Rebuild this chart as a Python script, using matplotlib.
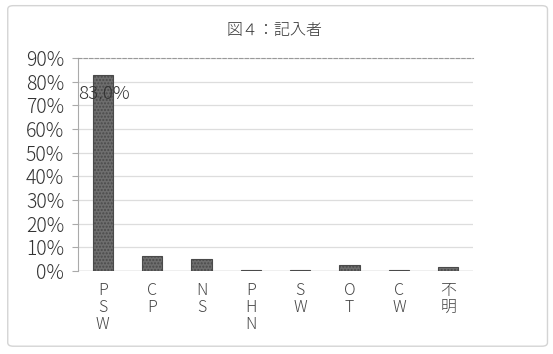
import matplotlib
matplotlib.use("Agg")
import matplotlib.pyplot as plt
from matplotlib.patches import FancyBboxPatch

plt.rcParams['font.family'] = ['Noto Sans CJK JP', 'DejaVu Sans']
plt.rcParams['font.weight'] = 'light'

# 記入者の内訳 (%)
categories = ['PSW', 'CP', 'NS', 'PHN', 'SW', 'OT', 'CW', '不明']
values = [83.0, 6.3, 5.1, 0.6, 0.5, 2.4, 0.4, 1.7]
yticks = [0, 10, 20, 30, 40, 50, 60, 70, 80, 90]

fig = plt.figure(figsize=(5.53, 3.54), dpi=100)
fig.patch.set_facecolor('white')

# 外枠
frame = FancyBboxPatch((0.014, 0.022), 0.976, 0.962, boxstyle="round,pad=0,rounding_size=0.01",
                       transform=fig.transFigure, facecolor='none', edgecolor='#d4d4d4', lw=1.0)
fig.patches.append(frame)

ax = fig.add_axes([78 / 553, 1 - 271 / 354, 395 / 553, 213 / 354])
x = list(range(len(categories)))
ax.bar(x, values, width=0.41, color='#6e6e6e', edgecolor='#4a4a4a', linewidth=0.8,
       hatch='.....', zorder=3)

ax.annotate(f'{values[0]:.1f}%', (x[0], values[0]), xytext=(1, -14), textcoords='offset points',
            ha='center', va='center', fontsize=13.5, color='#333333', zorder=4)

ax.set_xlim(-0.5, len(categories) - 0.5)
ax.set_ylim(0, 90)
ax.set_yticks(yticks)
ax.set_yticklabels([f'{v}%' for v in yticks], fontsize=14, color='#333333')
ax.set_xticks(x)
ax.set_xticklabels(['\n'.join(c) for c in categories], fontsize=11.5, color='#444444',
                   linespacing=1.0, va='top')
ax.tick_params(axis='x', length=0, pad=8)
ax.tick_params(axis='y', length=4, color='#aaaaaa', pad=6)

ax.grid(axis='y', color='#dddddd', lw=0.9, zorder=0)
for side in ['right', 'bottom']:
    ax.spines[side].set_visible(False)
ax.spines['top'].set_color('#999999')
ax.spines['top'].set_linestyle((0, (3, 2)))
ax.spines['top'].set_linewidth(0.8)
ax.spines['left'].set_color('#aaaaaa')
ax.axhline(0, color='#aaaaaa', lw=0.9, zorder=2)

fig.text(275 / 553, 1 - 30 / 354, '図４：記入者', ha='center', va='center', fontsize=11.5, color='#333333')

fig.savefig('out.png', dpi=100)
